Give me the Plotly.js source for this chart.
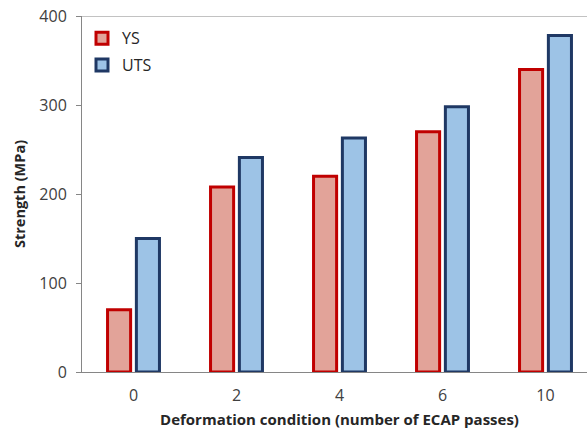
<!DOCTYPE html>
<html>
<head>
<meta charset="utf-8">
<script src="https://cdn.plot.ly/plotly-3.0.1.min.js"></script>
<style>
html,body{margin:0;padding:0;overflow:hidden;background:#fff;width:587px;height:432px;}
#chart{width:597px;height:432px;}
</style>
</head>
<body>
<div id="chart"></div>
<script>
var categories = ['0', '2', '4', '6', '10'];
var ysValues = [70, 208, 220, 270, 340];
var utsValues = [150, 241, 263, 298, 378];
var yTicks = [0, 100, 200, 300, 400];

var FONT = 'Open Sans, sans-serif';

var traces = [
  {
    type: 'bar', name: 'YS', x: categories, y: ysValues, legendgroup: 'a',
    marker: {color: '#E2A399', line: {color: '#C00000', width: 3}}
  },
  {
    type: 'bar', name: 'UTS', x: categories, y: utsValues, legendgroup: 'b',
    marker: {color: '#9DC3E6', line: {color: '#1F3864', width: 3}}
  }
];

var layout = {
  width: 597, height: 432,
  margin: {l: 82, r: 0, t: 16, b: 60},
  paper_bgcolor: '#fff', plot_bgcolor: '#fff',
  barmode: 'group', bargap: 0.44, bargroupgap: 0.2,
  font: {family: FONT, color: '#404040', size: 16},
  showlegend: true,
  legend: {x: 0.0, y: 0.985, xanchor: 'left', yanchor: 'top', bgcolor: 'rgba(0,0,0,0)',
           font: {family: FONT, size: 16, color: '#262626'}, tracegroupgap: 3},
  xaxis: {
    type: 'category', showline: true, linecolor: '#868686', linewidth: 1,
    ticks: '', showgrid: false, zeroline: false, ticklabelstandoff: 9,
    tickfont: {family: FONT, size: 16, color: '#404040'},
    title: {text: 'Deformation condition (number of ECAP passes)', standoff: 9,
            font: {family: FONT, size: 15, color: '#262626', weight: 'bold'}}
  },
  yaxis: {
    range: [0, 400], tickvals: yTicks, ticktext: yTicks.map(String),
    showline: true, linecolor: '#868686', linewidth: 1,
    ticks: 'outside', ticklen: 5, tickcolor: '#868686',
    showgrid: false, zeroline: false, ticklabelstandoff: 6,
    tickfont: {family: FONT, size: 16, color: '#404040'},
    title: {text: 'Strength (MPa)', standoff: 10,
            font: {family: FONT, size: 14.5, color: '#262626', weight: 'bold'}}
  },
  shapes: [
    {type: 'line', xref: 'paper', yref: 'y', x0: 0, x1: 1, y0: 400, y1: 400,
     line: {color: '#868686', width: 1}}
  ]
};

Plotly.newPlot('chart', traces, layout, {displayModeBar: false, staticPlot: true});
</script>
</body>
</html>
